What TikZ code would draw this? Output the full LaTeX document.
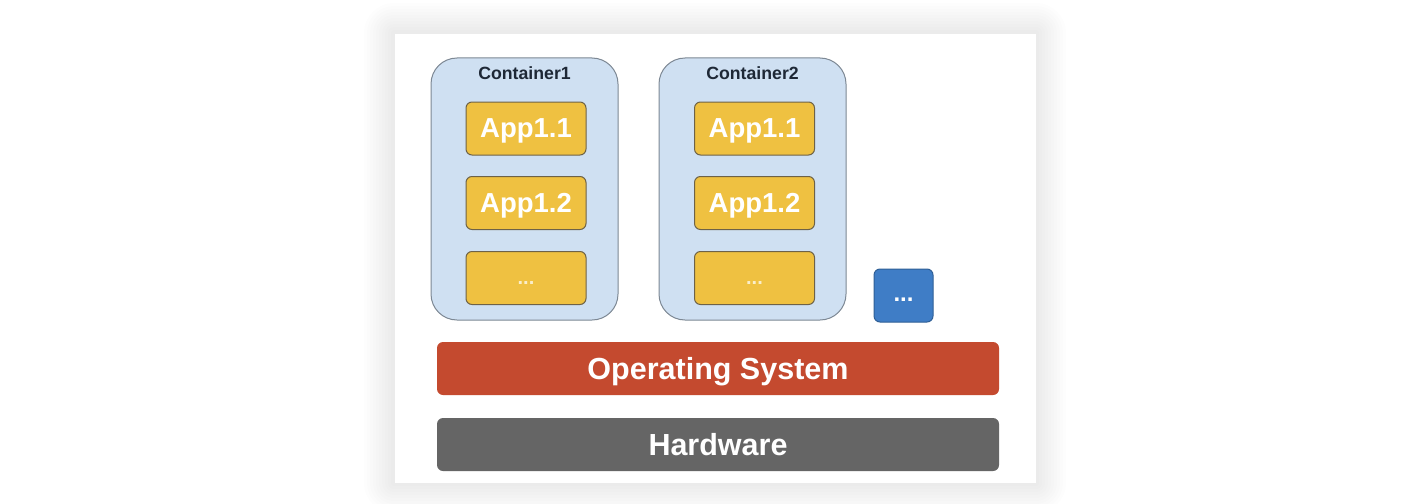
\documentclass[tikz,border=0pt]{standalone}
\usepackage{fontspec}
\setmainfont{Liberation Sans}
\begin{document}
\begin{tikzpicture}[x=1pt,y=-1pt,
  box/.style={rectangle, rounded corners=6pt, inner sep=0pt, outer sep=0pt, line width=1pt, text=white, text depth=0pt},
  cont/.style={rectangle, rounded corners=26pt, draw=contborder, fill=contfill, line width=1pt, inner sep=0pt, minimum width=187pt, minimum height=262pt},
  app/.style={box, draw=appborder, fill=appfill, minimum width=120pt, minimum height=53pt, font=\bfseries\fontsize{27.5}{27.5}\selectfont},
  title/.style={font=\bfseries\fontsize{17.7}{17.7}\selectfont, text=titlecol, inner sep=0pt},
  layer/.style={box, minimum width=562pt, minimum height=53pt, draw=none, font=\bfseries\fontsize{30.5}{30.5}\selectfont},
  ydots/.style={inner sep=0pt, text=white!72!appfill, font=\bfseries\fontsize{20}{20}\selectfont}
]
\definecolor{contfill}{HTML}{CFE0F2}
\definecolor{contborder}{HTML}{7D8894}
\definecolor{appfill}{HTML}{EFC141}
\definecolor{appborder}{HTML}{6E6247}
\definecolor{titlecol}{HTML}{1E2836}
\definecolor{osfill}{HTML}{C44A2F}
\definecolor{hwfill}{HTML}{656565}
\definecolor{bluefill}{HTML}{3F7DC6}
\definecolor{bluebord}{HTML}{2F5F96}
\useasboundingbox (0,0) rectangle (1407,503);
\fill[white] (0,0) rectangle (1407,503);
% soft card shadow
\foreach \d in {30,27,...,1}{
  \fill[black, opacity=0.007, rounded corners=\d pt] (394-\d,33-\d) rectangle (1036+\d,483+\d);
}
\node[draw=black!8, fill=white, line width=0.6pt, inner sep=0pt, minimum width=642pt, minimum height=450pt] (card) at (715,258) {};

% containers
\node[cont] (c1) at (524.5,189) {};
\node[cont] (c2) at (752.5,189) {};
\node[title] (t1) at (524.5,73) {Container1};
\node[title] (t2) at (752.5,73) {Container2};

\node[app] (a11) at (526,128.5) {App1.1};
\node[app] (a12) at (526,203) {App1.2};
\node[app] (a13) at (526,278) {};
\node[ydots] (d13) at (526,283) {...};
\node[app] (a21) at (754.5,128.5) {App1.1};
\node[app] (a22) at (754.5,203) {App1.2};
\node[app] (a23) at (754.5,278) {};
\node[ydots] (d23) at (754.5,283) {...};

\node[box, draw=bluebord, fill=bluefill, minimum width=59pt, minimum height=53pt] (more) at (903.5,295.5) {};
\node[inner sep=0pt, text=white, font=\bfseries\fontsize{24}{24}\selectfont] (moredots) at (903.5,300) {...};

\node[layer, fill=osfill] (os) at (718,368.5) {Operating System};
\node[layer, fill=hwfill] (hw) at (718,444.5) {Hardware};
\end{tikzpicture}
\end{document}
